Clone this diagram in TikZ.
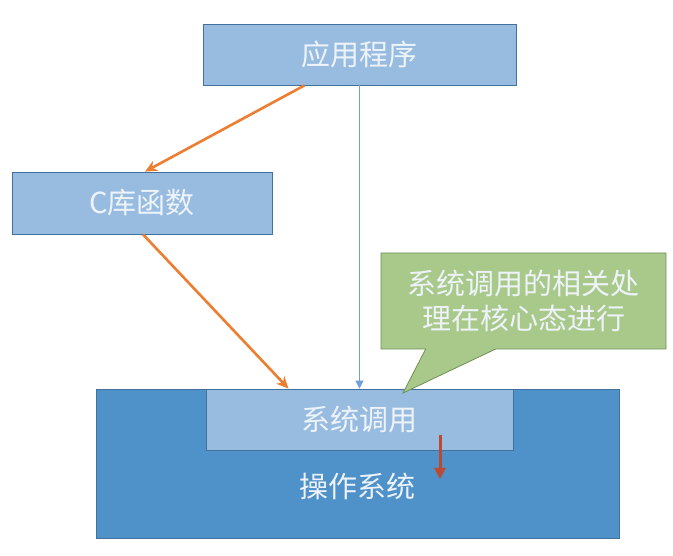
\documentclass[tikz,border=0pt]{standalone}
\usepackage{fontspec}
\setmainfont{Noto Sans CJK SC}
\usetikzlibrary{arrows.meta,shapes.callouts}
\definecolor{BoxBlue}{HTML}{97BCE0}
\definecolor{OSBlue}{HTML}{4F91C9}
\definecolor{EdgeBlue}{HTML}{41719C}
\definecolor{NoteGreen}{HTML}{A9C98B}
\definecolor{NoteEdge}{HTML}{6F8F55}
\definecolor{CallOrange}{HTML}{ED7D31}
\definecolor{LinkBlue}{HTML}{6FA0D8}
\definecolor{TrapRed}{HTML}{BC4A32}
\definecolor{TextWhite}{HTML}{EEF3FA}

\begin{document}
\begin{tikzpicture}[
    x=1pt, y=-1pt,
    every node/.style={
        text=TextWhite,
        inner sep=0pt,
        font=\fontsize{29}{35}\selectfont
    },
    layerbox/.style={
        draw=EdgeBlue,
        line width=0.8pt,
        fill=BoxBlue
    },
    callarrow/.style={
        draw=CallOrange,
        line width=2.6pt,
        -{Stealth[length=12pt,width=11pt]}
    }
]
\useasboundingbox (0,0) rectangle (673,556);

\node[layerbox, fill=OSBlue, minimum width=523pt, minimum height=149pt] (os) at (357.5,463.5) {};
\node (ostext) at (357,486) {操作系统};

\node[layerbox, minimum width=313pt, minimum height=61pt] (app) at (359.5,54.5) {应用程序};
\node[layerbox, minimum width=260pt, minimum height=62pt] (clib) at (142,203) {C库函数};
\node[layerbox, minimum width=307pt, minimum height=61pt] (sys) at (359.5,419.5) {系统调用};

\draw[callarrow] ([xshift=-55pt]app.south) -- ([xshift=3pt]clib.north);
\draw[callarrow] ([xshift=1pt]clib.south) -- ([xshift=-71pt]sys.north);
\draw[draw=LinkBlue, line width=1pt, -{Triangle[length=8pt,width=8pt]}] (app.south) -- (sys.north);

\coordinate (trapstart) at (440,435);
\coordinate (trapend) at (440,479);
\draw[draw=TrapRed, line width=3pt, -{Triangle[length=11pt,width=11pt]}] (trapstart) -- (trapend);

\coordinate (tip) at (403,393);
\node[rectangle callout, draw=NoteEdge, line width=0.8pt, fill=NoteGreen,
      minimum width=285pt, minimum height=96pt, align=center,
      callout absolute pointer=(tip), callout pointer width=70pt] (note) at (523.5,301)
      {系统调用的相关处\\理在核心态进行};

\end{tikzpicture}
\end{document}
